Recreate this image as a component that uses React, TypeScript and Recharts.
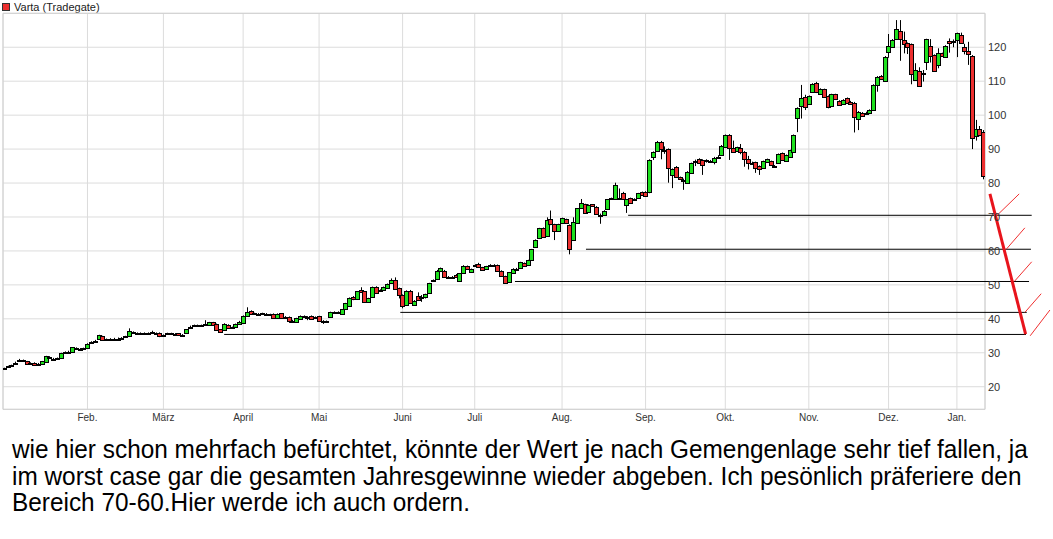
import {
  Bar,
  CartesianGrid,
  ComposedChart,
  ReferenceArea,
  ReferenceLine,
  XAxis,
  YAxis,
} from "recharts";

// [open, high, low, close] per trading day
const jan19 = [
  [25.2, 25.6, 25.0, 25.5], [25.8, 26.2, 25.7, 26.0], [26.1, 26.5, 26.0, 26.3], [26.8, 27.4, 26.7, 27.1],
  [27.7, 28.2, 27.5, 27.9], [27.6, 28.0, 27.4, 27.8], [27.5, 27.6, 26.5, 26.6], [26.8, 27.2, 26.6, 26.9],
  [27.1, 27.2, 26.2, 26.4], [26.7, 27.0, 26.5, 26.8], [26.6, 27.6, 26.5, 27.5], [27.4, 29.1, 27.3, 29.0],
  [28.8, 29.0, 28.5, 28.7], [28.3, 28.5, 28.0, 28.2], [28.3, 28.6, 28.1, 28.4], [28.4, 30.0, 28.3, 29.9],
  [30.0, 30.4, 29.8, 30.1], [30.2, 30.6, 30.0, 30.3], [30.1, 31.7, 30.0, 31.6], [31.4, 31.6, 31.0, 31.2],
  [31.1, 31.4, 30.8, 31.0], [31.2, 31.5, 31.0, 31.3],
];
const feb19 = [
  [31.4, 32.8, 31.3, 32.6], [33.0, 33.4, 32.9, 33.2], [33.4, 33.8, 33.3, 33.5], [34.0, 35.3, 33.9, 35.1],
  [34.9, 35.0, 33.7, 33.8], [33.9, 34.2, 33.8, 34.0], [34.0, 34.3, 33.8, 34.0], [34.1, 34.4, 34.0, 34.2],
  [34.2, 34.5, 34.0, 34.2], [34.3, 34.6, 34.1, 34.3], [34.8, 35.0, 34.5, 34.6], [34.9, 37.2, 34.8, 36.5],
  [36.0, 36.3, 35.7, 35.9], [35.9, 36.0, 35.7, 35.8], [35.8, 36.0, 35.6, 35.9], [35.9, 36.0, 35.7, 35.8],
  [35.8, 36.0, 35.6, 35.9], [36.1, 36.5, 35.8, 36.2], [35.9, 36.0, 35.6, 35.8], [35.9, 36.0, 34.6, 34.9],
];
const mar19 = [
  [35.2, 35.4, 35.0, 35.3], [35.6, 35.9, 35.4, 35.7], [35.7, 35.9, 35.5, 35.7], [35.6, 35.8, 35.4, 35.6],
  [35.7, 35.8, 35.1, 35.2], [35.3, 35.5, 34.7, 35.3], [35.9, 37.0, 35.8, 36.9], [37.6, 38.0, 37.4, 37.7],
  [38.0, 38.3, 37.9, 38.1], [38.1, 38.3, 38.0, 38.1], [38.1, 38.3, 38.0, 38.2], [38.4, 39.6, 38.2, 38.5],
  [38.1, 39.1, 38.0, 39.0], [39.0, 39.1, 38.0, 38.1], [38.5, 38.6, 36.5, 36.7], [36.9, 37.0, 36.0, 36.1],
  [36.7, 38.7, 36.6, 38.5], [38.2, 38.4, 37.1, 37.2], [37.4, 37.7, 37.2, 37.5], [37.5, 38.6, 37.4, 38.5],
  [38.5, 39.4, 38.4, 39.2],
];
const apr19 = [
  [38.8, 41.0, 38.7, 40.9], [40.9, 43.4, 40.8, 42.1], [42.3, 42.5, 41.2, 41.3], [41.5, 41.8, 41.4, 41.6],
  [41.5, 41.7, 40.9, 41.0], [41.5, 41.8, 41.3, 41.6], [41.4, 41.7, 41.3, 41.5], [41.3, 41.5, 41.0, 41.2],
  [41.5, 41.6, 40.0, 40.1], [40.1, 41.6, 40.0, 41.5], [41.6, 41.7, 40.0, 40.1], [40.5, 40.8, 40.4, 40.6],
  [40.6, 40.7, 38.8, 39.4], [39.5, 39.7, 39.3, 39.4], [39.0, 40.3, 38.9, 40.2], [40.0, 41.0, 39.9, 40.9],
  [40.8, 41.0, 40.7, 40.9], [40.6, 40.8, 39.6, 40.6], [40.9, 41.0, 39.9, 40.0], [40.5, 40.7, 40.4, 40.6],
];
const may19 = [
  [40.8, 40.9, 39.4, 39.5], [39.5, 39.6, 38.5, 39.4], [39.3, 39.5, 39.0, 39.2], [40.4, 42.1, 40.3, 42.0],
  [42.0, 42.2, 41.8, 42.0], [41.9, 42.2, 41.8, 42.0], [41.3, 42.9, 41.2, 42.8], [43.0, 44.7, 42.9, 44.6],
  [43.9, 46.3, 43.8, 46.2], [46.5, 46.7, 45.5, 45.7], [45.7, 48.2, 45.6, 48.1], [48.5, 49.3, 47.8, 47.9],
  [48.1, 48.2, 44.8, 45.0], [45.0, 46.2, 44.9, 46.1], [46.3, 49.5, 46.2, 49.4], [49.4, 49.6, 47.5, 47.6],
  [48.4, 48.7, 48.3, 48.5], [48.5, 49.5, 48.4, 49.4], [49.2, 50.4, 49.1, 50.3], [50.5, 51.9, 50.4, 51.5],
  [51.5, 52.2, 48.8, 48.9], [49.0, 49.2, 46.0, 47.0],
];
const jun19 = [
  [47.0, 47.2, 43.1, 43.8], [44.1, 48.4, 43.8, 48.3], [48.3, 48.5, 44.4, 44.6], [44.1, 45.5, 44.0, 45.3],
  [46.7, 47.8, 45.5, 45.6], [46.3, 47.0, 45.0, 46.3], [46.3, 47.4, 46.0, 47.2], [47.5, 50.6, 47.4, 50.5],
  [51.2, 51.6, 51.0, 51.4], [51.6, 54.4, 51.5, 54.2], [54.2, 55.1, 54.0, 54.9], [54.2, 54.4, 52.1, 52.2],
  [52.3, 52.6, 52.2, 52.4], [52.3, 52.6, 52.2, 52.4], [53.0, 53.2, 52.3, 52.4], [51.0, 53.5, 50.9, 53.4],
  [53.4, 55.8, 53.3, 55.6], [55.5, 55.7, 54.6, 54.7], [53.7, 54.8, 53.6, 54.7],
];
const jul19 = [
  [55.8, 56.1, 55.6, 55.9], [56.1, 56.5, 55.1, 55.2], [55.2, 55.3, 54.4, 54.5], [54.7, 55.6, 54.6, 55.5],
  [55.8, 56.1, 55.7, 55.9], [55.8, 56.1, 55.3, 55.9], [55.8, 56.0, 54.1, 54.2], [54.2, 54.3, 52.5, 52.6],
  [52.6, 52.7, 50.5, 50.6], [50.9, 53.8, 50.8, 53.7], [53.6, 54.9, 53.5, 54.8], [54.8, 55.0, 54.2, 54.8],
  [54.9, 56.8, 54.8, 56.7], [56.3, 56.6, 55.3, 55.5], [55.8, 57.4, 55.7, 57.3], [57.3, 60.6, 57.2, 60.5],
  [61.2, 63.4, 61.0, 63.2], [63.7, 66.8, 63.5, 66.7], [66.7, 66.9, 64.1, 64.2], [64.4, 69.9, 64.3, 69.1],
  [69.3, 71.9, 67.6, 67.8], [67.8, 68.0, 63.2, 66.0], [66.0, 68.0, 65.8, 67.9],
];
const aug19 = [
  [68.3, 69.8, 68.1, 69.6], [69.3, 69.5, 68.2, 68.3], [67.6, 67.8, 59.0, 60.5], [63.2, 69.9, 63.0, 68.6],
  [68.1, 72.6, 68.0, 72.5], [72.5, 75.3, 72.4, 74.2], [73.7, 73.9, 71.2, 71.3], [71.6, 73.7, 71.5, 73.6],
  [73.7, 73.8, 73.0, 73.1], [73.0, 73.2, 70.8, 70.9], [70.6, 71.0, 68.0, 70.6], [70.6, 72.0, 70.5, 71.9],
  [72.4, 75.3, 72.3, 75.2], [75.4, 75.7, 75.3, 75.5], [75.2, 80.1, 75.1, 79.4], [75.5, 78.4, 75.3, 75.5],
  [77.2, 77.4, 75.1, 75.2], [73.4, 75.3, 71.2, 75.2], [75.5, 75.7, 74.0, 74.1], [75.2, 75.5, 75.0, 75.2],
  [75.6, 77.1, 75.5, 77.0], [77.3, 77.5, 76.4, 76.5],
];
const sep19 = [
  [77.4, 77.6, 76.0, 76.1], [77.3, 87.0, 77.0, 86.8], [87.8, 89.3, 86.8, 89.1], [89.5, 92.4, 89.3, 92.2],
  [92.0, 92.4, 87.0, 89.9], [89.7, 90.8, 88.6, 89.7], [89.9, 90.2, 80.1, 84.4], [82.4, 84.3, 78.5, 84.1],
  [84.8, 85.0, 81.5, 81.7], [81.7, 81.9, 80.9, 81.1], [80.9, 81.3, 78.0, 80.9], [80.1, 83.5, 79.9, 83.3],
  [82.9, 86.0, 82.7, 85.8], [86.5, 86.9, 85.0, 86.5], [87.0, 87.3, 85.8, 86.0], [86.8, 87.0, 82.4, 85.3],
  [86.8, 87.0, 86.0, 86.8], [86.3, 86.8, 86.1, 86.5], [86.3, 87.7, 85.5, 87.5], [87.8, 88.2, 87.5, 87.8],
  [88.3, 91.2, 88.0, 90.9],
];
const oct19 = [
  [90.5, 94.3, 90.3, 94.2], [94.2, 94.4, 86.8, 90.2], [90.2, 92.5, 89.0, 89.2], [89.5, 90.7, 89.3, 90.5],
  [90.2, 91.5, 88.5, 89.2], [89.2, 89.4, 84.8, 87.2], [87.2, 88.0, 84.0, 85.8], [86.0, 86.3, 85.8, 86.0],
  [86.1, 86.3, 83.0, 84.5], [85.0, 85.2, 82.4, 84.1], [84.3, 86.6, 84.2, 86.5], [86.3, 87.2, 86.2, 87.1],
  [86.5, 86.6, 85.2, 85.3], [85.0, 85.3, 84.5, 85.0], [85.8, 88.7, 85.7, 88.6], [88.8, 89.0, 86.7, 86.8],
  [86.5, 88.4, 86.4, 88.3], [87.8, 89.8, 87.7, 89.7], [89.2, 94.3, 89.0, 94.2], [99.1, 102.3, 95.0, 102.0],
  [102.7, 108.9, 99.0, 105.0], [105.4, 106.0, 101.5, 102.5],
];
const nov19 = [
  [103.4, 105.8, 103.2, 105.6], [106.9, 109.4, 106.7, 109.2], [109.4, 109.8, 106.5, 106.7], [106.2, 107.9, 106.0, 107.7],
  [107.6, 107.8, 105.2, 105.4], [105.6, 105.8, 102.0, 102.3], [102.7, 106.3, 102.5, 106.1], [106.1, 106.3, 104.5, 104.7],
  [104.2, 104.4, 102.8, 103.0], [103.3, 104.7, 103.1, 104.5], [105.0, 105.2, 103.3, 103.5], [104.0, 104.2, 103.1, 103.3],
  [103.7, 103.9, 94.9, 99.4], [98.8, 101.2, 95.6, 101.0], [100.7, 100.9, 99.6, 99.8], [100.6, 101.0, 100.4, 100.7],
  [100.5, 101.7, 100.3, 101.5], [101.5, 109.1, 101.3, 108.9], [108.9, 111.5, 106.9, 111.3], [111.5, 111.8, 110.4, 110.6],
  [110.1, 117.4, 110.0, 117.2],
];
const dec19 = [
  [118.7, 123.9, 116.9, 120.4], [120.2, 122.4, 120.0, 122.2], [122.4, 128.0, 122.2, 125.3], [124.8, 128.0, 116.0, 122.4],
  [122.2, 124.6, 118.2, 120.9], [121.2, 121.4, 118.0, 120.2], [120.9, 121.1, 109.1, 112.0], [110.4, 115.3, 110.2, 113.3],
  [113.0, 114.1, 108.5, 108.7], [112.4, 113.3, 109.9, 112.5], [115.8, 122.5, 113.3, 122.4], [120.4, 122.4, 115.5, 117.4],
  [117.7, 117.9, 112.8, 113.0], [114.8, 119.7, 113.8, 118.2], [118.2, 118.4, 117.2, 117.4], [117.2, 120.6, 117.0, 120.4],
  [121.9, 122.6, 118.4, 121.2], [121.9, 122.3, 120.0, 121.9],
];
const jan20 = [
  [122.1, 124.3, 117.1, 124.1], [123.6, 124.3, 121.0, 121.2], [120.0, 121.0, 117.9, 119.0], [118.9, 121.6, 114.8, 117.9],
  [117.5, 117.7, 90.0, 93.2], [93.9, 98.6, 92.5, 96.0], [96.0, 96.8, 93.8, 94.1], [95.0, 95.6, 81.1, 82.2],
];

const months = [jan19, feb19, mar19, apr19, may19, jun19, jul19, aug19, sep19, oct19, nov19, dec19, jan20];
const monthLabels = ["Feb.", "März", "April", "Mai", "Juni", "Juli", "Aug.", "Sep.", "Okt.", "Nov.", "Dez.", "Jan."];
const priceTicks = [20, 30, 40, 50, 60, 70, 80, 90, 100, 110, 120];

// hand-drawn marks: horizontal levels [price, from day, to day]
const levels = [
  [70.5, 164.4, 270.7],
  [60.5, 153.3, 270.5],
  [51.0, 134.6, 270.0],
  [41.9, 104.4, 269.4],
  [35.4, 58, 269.2],
];
const fallLine = [[259.7, 76.8], [269.1, 35.5]];
const arrows = [
  [[261.5, 70.4], [267.4, 76.8]],
  [[264.0, 60.5], [268.9, 66.8]],
  [[266.2, 51.1], [270.7, 56.8]],
  [[268.9, 41.9], [273.2, 47.4]],
  [[270.3, 35.0], [275.5, 42.6]],
];

const GREEN = "#1ee01e";
const RED = "#ec2f2f";

const data: any[] = [];
const monthStarts: number[] = [];
months.forEach((m, mi) => {
  if (mi > 0) monthStarts.push(data.length);
  m.forEach(([o, h, l, c]) => {
    data.push({ i: data.length, o, h, l, c, range: [l, h] });
  });
});

function Candle(props: any) {
  const { x, y, width, height, payload } = props;
  if (!payload) return null;
  const { o, h, l, c } = payload;
  const top = Math.min(y, y + height);
  const span = Math.abs(height);
  const k = span / (h - l);
  const yOf = (v: number) => top + (h - v) * k;
  const cx = Math.round(x + width / 2) + 0.5;
  const bTop = Math.round(yOf(Math.max(o, c))) + 0.5;
  const bBot = Math.round(yOf(Math.min(o, c))) + 0.5;
  return (
    <g>
      <line x1={cx} x2={cx} y1={top} y2={top + span} stroke="#000" strokeWidth={1} />
      <rect
        x={cx - 2}
        y={bTop}
        width={4}
        height={Math.max(bBot - bTop, 1)}
        fill={c >= o ? GREEN : RED}
        stroke="#000"
        strokeWidth={1}
      />
    </g>
  );
}

const X_DOMAIN: [number, number] = [-0.25, 258.4];
const Y_DOMAIN: [number, number] = [13.35, 130];

export default function App() {
  return (
    <div
      style={{
        position: "absolute",
        left: 0,
        top: 0,
        width: 1053,
        height: 539,
        background: "#fff",
        fontFamily: "'Liberation Sans', Arial, sans-serif",
        overflow: "hidden",
      }}
    >
      <div style={{ position: "absolute", left: 2, top: 1, fontSize: 11, color: "#222", display: "flex", alignItems: "center" }}>
        <span style={{ width: 6, height: 6, background: RED, border: "1px solid #333", marginRight: 4, display: "inline-block" }} />
        Varta (Tradegate)
      </div>
      <ComposedChart
        width={1053}
        height={430}
        data={data}
        margin={{ top: 13.3, right: 0, bottom: 0.7, left: 3 }}
      >
        <CartesianGrid stroke="#dcdcdc" />
        <ReferenceArea
          x1={X_DOMAIN[0]}
          x2={X_DOMAIN[1]}
          y1={Y_DOMAIN[0]}
          y2={Y_DOMAIN[1]}
          fill="none"
          stroke="#d0d0d0"
          ifOverflow="visible"
        />
        <XAxis
          dataKey="i"
          type="number"
          domain={X_DOMAIN}
          allowDataOverflow
          ticks={monthStarts}
          tickFormatter={(v: number) => monthLabels[monthStarts.indexOf(v)] ?? ""}
          tick={{ fill: "#333", fontSize: 10 }}
          axisLine={false}
          tickLine={false}
          tickSize={0}
          tickMargin={5}
          height={20}
        />
        <YAxis
          orientation="right"
          domain={Y_DOMAIN}
          allowDataOverflow
          ticks={priceTicks}
          tick={{ fill: "#333", fontSize: 11, textAnchor: "start" }}
          axisLine={false}
          tickLine={false}
          tickSize={0}
          tickMargin={3}
          width={68}
        />
        <Bar dataKey="range" barSize={4} shape={<Candle />} isAnimationActive={false} />
        {levels.map(([p, a, b], k) => (
          <ReferenceLine
            key={"lv" + k}
            segment={[{ x: a, y: p }, { x: b, y: p }]}
            stroke="#000"
            strokeWidth={1}
            ifOverflow="visible"
          />
        ))}
        <ReferenceLine
          segment={fallLine.map(([x, y]) => ({ x, y }))}
          stroke="#e8141c"
          strokeWidth={3}
          ifOverflow="visible"
        />
        {arrows.map((seg, k) => (
          <ReferenceLine
            key={"ar" + k}
            segment={seg.map(([x, y]) => ({ x, y }))}
            stroke="#f03030"
            strokeWidth={1}
            ifOverflow="visible"
          />
        ))}
      </ComposedChart>
      <div
        style={{
          position: "absolute",
          left: 12,
          top: 436,
          width: 1100,
          fontSize: 25,
          lineHeight: "26.5px",
          color: "#000",
          whiteSpace: "nowrap",
          transform: "scaleX(0.975)",
          transformOrigin: "0 0",
        }}
      >
        wie hier schon mehrfach befürchtet, könnte der Wert je nach Gemengenlage sehr tief fallen, ja
        <br />
        im worst case gar die gesamten Jahresgewinne wieder abgeben. Ich pesönlich präferiere den
        <br />
        Bereich 70-60.Hier werde ich auch ordern.
      </div>
    </div>
  );
}
